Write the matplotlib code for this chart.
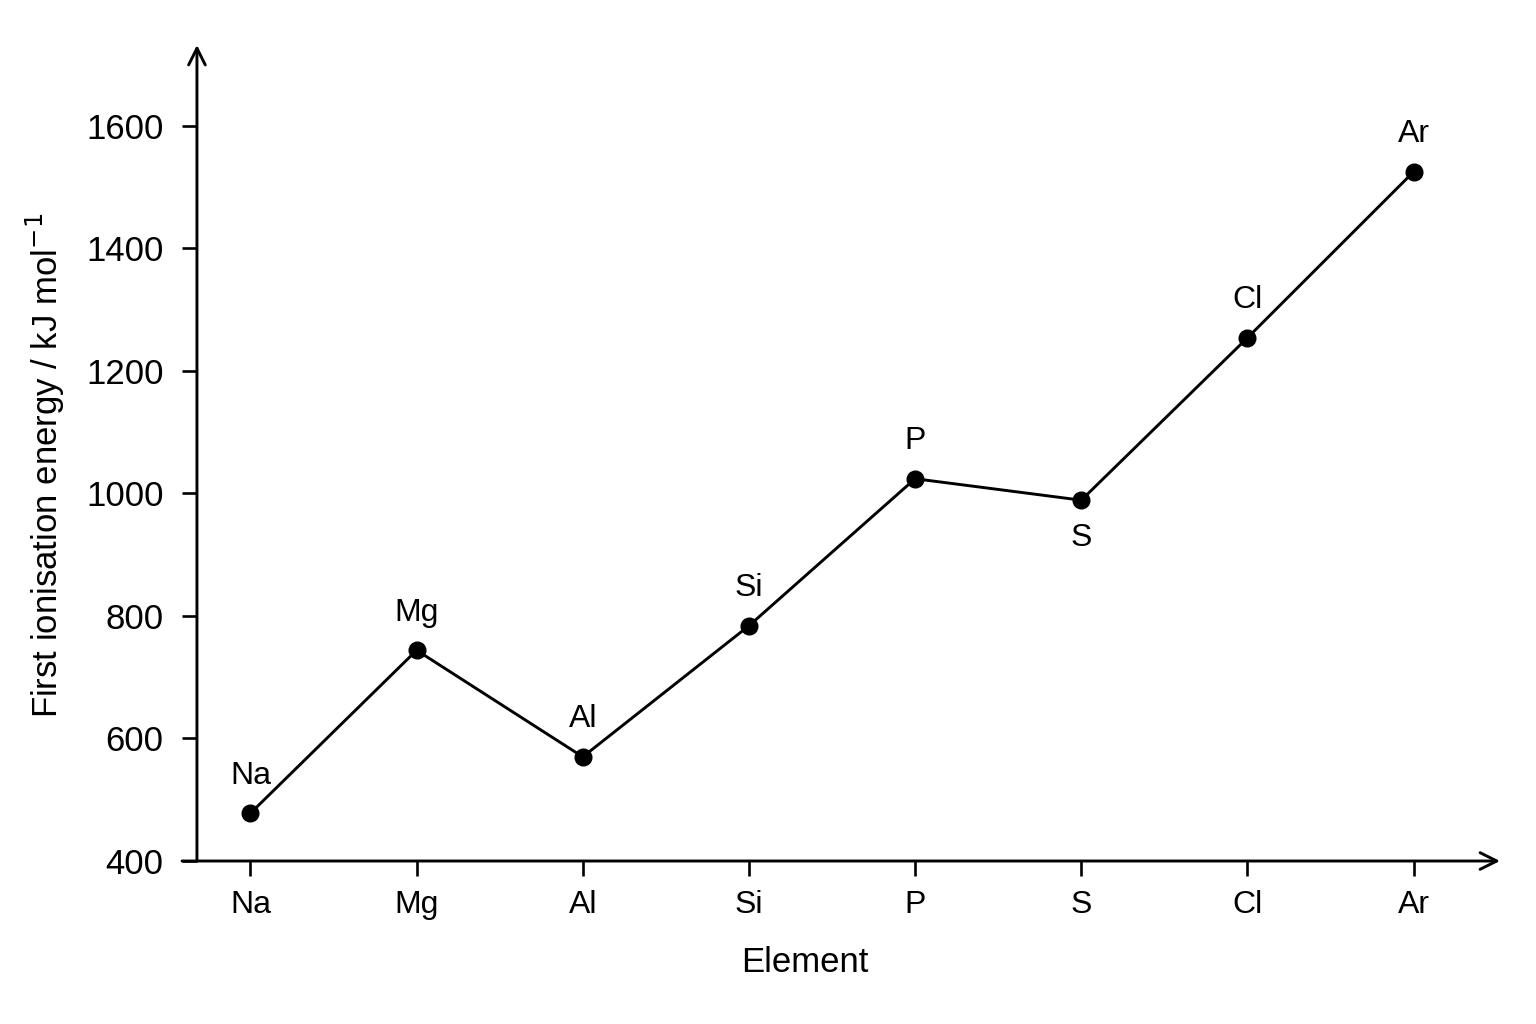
import numpy as np
import matplotlib.pyplot as plt

plt.rcParams['font.family'] = ['Liberation Sans', 'DejaVu Sans']

elements = ['Na', 'Mg', 'Al', 'Si', 'P', 'S', 'Cl', 'Ar']
energy = [478, 744, 570, 784, 1024, 989, 1254, 1525]
label_below = ['S']

W, H = 1536, 1024
fig = plt.figure(figsize=(W / 100, H / 100), dpi=100)
# axes box from x=182px to 1500px, y=861px up to 45px
ax = fig.add_axes([182 / W, 1 - 861 / H, (1500 - 182) / W, (861 - 45) / H])

x = np.arange(len(elements))
x0 = -0.322  # where the y axis sits
xmin, xmax = -0.412, 7.52
ymin, ymax = 400, 1732
ax.set_xlim(xmin, xmax)
ax.set_ylim(ymin, ymax)

ax.plot(x, energy, color='black', lw=2.1, marker='o', ms=12, zorder=3)

for xi, e, name in zip(x, energy, elements):
    off = -27 if name in label_below else 27
    ax.annotate(name, (xi, e), xytext=(0, off), textcoords='offset points',
                ha='center', va='center', fontsize=23)

for s in ax.spines.values():
    s.set_visible(False)
ax.spines['left'].set_position(('data', x0))

# axes with arrowheads
arr = dict(arrowstyle='->', lw=2.1, color='black', mutation_scale=30, shrinkA=0, shrinkB=0)
ax.annotate('', xy=(x0, ymax), xytext=(x0, ymin), arrowprops=arr, annotation_clip=False)
ax.annotate('', xy=(xmax, ymin), xytext=(xmin, ymin), arrowprops=arr, annotation_clip=False)

ax.set_xticks(x)
ax.set_xticklabels(elements)
ax.set_yticks([400, 600, 800, 1000, 1200, 1400, 1600])
ax.tick_params(axis='y', direction='out', length=11, width=1.9, labelsize=25, pad=13)
ax.tick_params(axis='x', direction='out', length=11, width=1.9, labelsize=23, pad=10)

fig.text(805 / W, 1 - 962 / H, 'Element', ha='center', va='center', fontsize=25)
fig.text(45 / W, 1 - 465 / H, 'First ionisation energy / kJ mol$^{-1}$', ha='center', va='center',
         rotation=90, fontsize=25)

fig.savefig('out.png', dpi=100)
